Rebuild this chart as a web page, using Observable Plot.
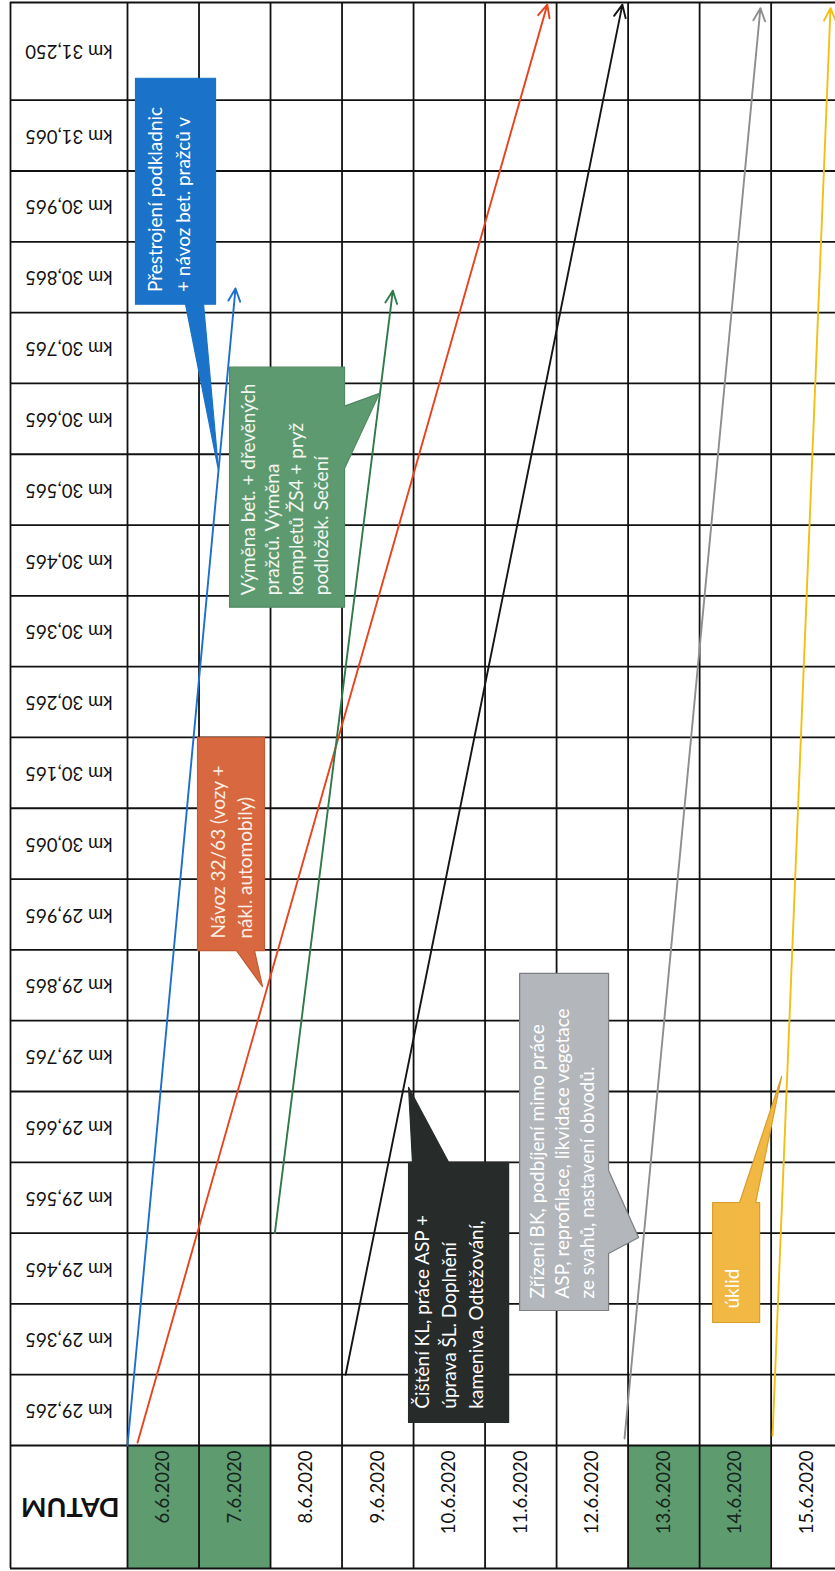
<!DOCTYPE html>
<html><head><meta charset="utf-8">
<script src="https://cdn.jsdelivr.net/npm/d3@7"></script>
<script src="https://cdn.jsdelivr.net/npm/@observablehq/plot@0.6"></script>
<style>html,body{margin:0;padding:0;background:#fff} svg{display:block}</style>
</head><body><div id="chart"></div>
<script>
// ---- data (x = day offset from 6.6.2020, y = km row index) ----
const dates = ["6.6.2020","7.6.2020","8.6.2020","9.6.2020","10.6.2020","11.6.2020","12.6.2020","13.6.2020","14.6.2020","15.6.2020"];
const weekendDates = ["6.6.2020","7.6.2020","13.6.2020","14.6.2020"];
const kmLabels = ["km 29,265","km 29,365","km 29,465","km 29,565","km 29,665","km 29,765","km 29,865","km 29,965","km 30,065","km 30,165","km 30,265","km 30,365","km 30,465","km 30,565","km 30,665","km 30,765","km 30,865","km 30,965","km 31,065","km 31,250"];
const headerLabel = "DATUM";

const workNames  = ["podkladnice","návoz","výměna","čištění","zřízení BK","úklid"];
const workColors = ["#1c6fcf","#e8431e","#2f7a4b","#151515","#8e8e8e","#f2bf12"];
const workStart  = [[0,0],[0.14,0.04],[2.06,3.0],[3.05,1.0],[6.95,0.1],[9.02,0.14]];
const workEnd    = [[1.51,16.34],[5.87,20.35],[3.71,16.31],[6.92,20.35],[8.85,20.3],[9.83,20.3]];

const calloutTexts = [
  "Přestrojení podkladnic\n+ návoz bet. pražců v",
  "Výměna bet. + dřevěných\npražců. Výměna\nkompletů ŽS4 + pryž\npodložek. Sečení",
  "Návoz 32/63 (vozy +\nnákl. automobily)",
  "Čištění KL, práce ASP +\núprava ŠL. Doplnění\nkameniva. Odtěžování,",
  "Zřízení BK, podbíjení mimo práce\nASP, reprofilace, likvidace vegetace\nze svahů, nastavení obvodů.",
  "úklid"
];
const calloutFill   = ["#1b72c9","#5e9a70","#d8683f","#272b2a","#b3b6ba","#f1b844"];
const calloutStroke = ["#1b72c9","#4f8a62","#c25a33","#272b2a","#7d7f82","#d99e2c"];
const calloutInk    = ["#ffffff","#f2f6f0","#fbeee6","#ffffff","#ffffff","#ffffff"];
const calloutLeading = [1.45, 1.27, 1.45, 1.42, 1.32, 1.3];
const calloutShapes = [
  [[0.112,19.31],[1.231,19.31],[1.231,16.12],[1.063,16.12],[1.273,13.77],[0.811,16.12],[0.112,16.12]],
  [[1.427,15.23],[3.035,15.23],[3.035,14.68],[3.524,14.86],[3.035,13.80],[3.035,11.84],[1.427,11.84]],
  [[0.979,10.0],[1.916,10.0],[1.916,6.99],[1.776,6.99],[1.888,6.48],[1.524,6.99],[0.979,6.99]],
  [[3.930,4.0],[3.985,4.0],[3.930,5.06],[4.490,4.0],[5.329,4.0],[5.329,0.325],[3.930,0.325]],
  [[5.483,6.667],[6.727,6.667],[6.727,3.884],[7.147,2.938],[6.727,2.712],[6.727,1.907],[5.483,1.907]],
  [[8.182,3.432],[8.559,3.432],[9.147,5.212],[8.783,3.432],[8.839,3.432],[8.839,1.737],[8.182,1.737]]
];
const calloutAnchor = [[0.215,16.29],[1.545,12.01],[1.085,7.16],[3.955,0.52],[5.575,2.076],[8.31,1.935]];

// ---- scales ----
const xMin = -1.636, xMax = 9.9;
const yMin = -1.737, yMax = 20.38;

const rowEdges = d3.range(0, kmLabels.length).concat([yMin, yMax]);
const colEdges = d3.range(0, dates.length).concat([xMin]);

const kmData = kmLabels.map((k, i) => ({k, y: i < kmLabels.length - 1 ? i + 0.5 : (i + yMax) / 2}));
const dateData = dates.map((d, i) => ({d, i, we: weekendDates.includes(d)}));

const font = "Lato, 'Open Sans', sans-serif";
const marks = [];
marks.push(Plot.rect(dateData.filter(d => d.we), {x1: d => d.i, x2: d => d.i + 1, y1: yMin, y2: 0, fill: "#5e9c70"}));
marks.push(Plot.ruleY(rowEdges, {y: d => d, x1: xMin, x2: xMax, stroke: "#111", strokeWidth: 1.8}));
marks.push(Plot.ruleX(colEdges, {x: d => d, y1: yMin, y2: yMax, stroke: "#111", strokeWidth: 1.8}));

workNames.forEach((n, i) => {
  marks.push(Plot.arrow([{}], {
    x1: workStart[i][0], y1: workStart[i][1], x2: workEnd[i][0], y2: workEnd[i][1],
    stroke: workColors[i], strokeWidth: 1.9, headLength: 11, headAngle: 50
  }));
});

calloutTexts.forEach((t, i) => {
  const pts = calloutShapes[i].map(([x, y]) => ({x, y}));
  marks.push(Plot.line(pts, {x: "x", y: "y", curve: "linear-closed", fill: calloutFill[i], stroke: calloutStroke[i], strokeWidth: 1.2}));
  marks.push(Plot.text([t], {
    x: calloutAnchor[i][0], y: calloutAnchor[i][1], text: d => d, rotate: -90,
    textAnchor: "start", lineAnchor: "top", lineHeight: calloutLeading[i],
    fill: calloutInk[i], fontSize: 19, fontFamily: font
  }));
});

marks.push(Plot.text(dateData, {
  x: d => d.i + 0.5, y: -0.07, text: "d", rotate: -90, textAnchor: "end", lineAnchor: "middle",
  fill: d => d.we ? "#14241a" : "#111", fontSize: 18.5, fontFamily: font
}));
marks.push(Plot.text(kmData, {
  x: -0.818, y: "y", text: "k", rotate: 180, textAnchor: "middle", lineAnchor: "middle",
  fill: "#111", fontSize: 18.5, fontFamily: font
}));
marks.push(Plot.text([headerLabel], {
  x: -0.80, y: -0.87, text: d => d, rotate: 180, textAnchor: "middle", lineAnchor: "middle",
  fill: "#111", fontSize: 27, fontWeight: "bold", fontFamily: font
}));

const chart = Plot.plot({
  width: 835, height: 1571,
  marginLeft: 10, marginRight: 0, marginTop: 2, marginBottom: 3,
  x: {domain: [xMin, xMax], axis: null},
  y: {domain: [yMin, yMax], axis: null},
  style: {background: "#fff"},
  marks
});
document.getElementById("chart").appendChild(chart);
</script>
</body></html>
